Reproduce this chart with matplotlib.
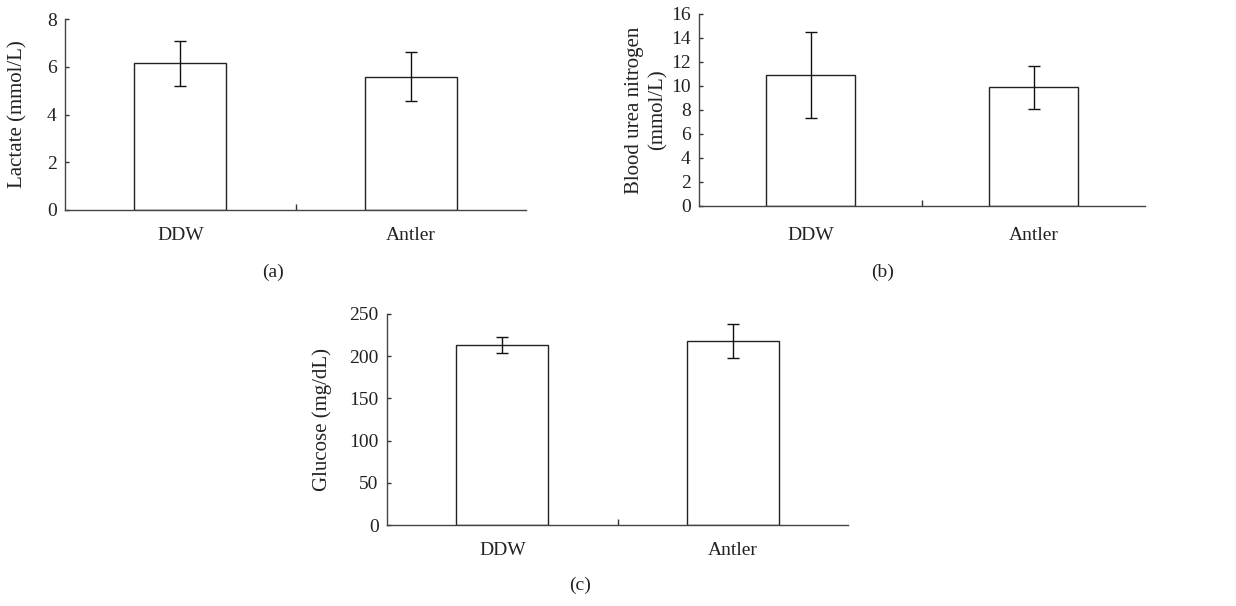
import matplotlib
matplotlib.use("Agg")
import matplotlib.pyplot as plt
import matplotlib.transforms as mtransforms
import numpy as np

plt.rcParams['font.family'] = ['Liberation Serif', 'DejaVu Serif']

categories = ["DDW", "Antler"]
lactate_mean = [6.15, 5.58]
lactate_err = [0.94, 1.02]
bun_mean = [10.9, 9.9]
bun_err = [3.6, 1.8]
glucose_mean = [213, 218]
glucose_err = [9.5, 20]

W, H = 1236, 606
fig = plt.figure(figsize=(W / 100, H / 100), dpi=100)


def make_ax(left, right, top, bottom):
    return fig.add_axes([left / W, 1 - bottom / H, (right - left) / W, (bottom - top) / H])


def draw(ax, means, errs, ymax, ystep, ylabel, letter, lx, ly, label_x, xpad=12):
    x = np.arange(len(categories))
    ax.bar(x, means, width=0.4, color="white", edgecolor="#222222", linewidth=1.0, zorder=2)
    ax.errorbar(x, means, yerr=errs, fmt="none", ecolor="#111111", elinewidth=1.0,
                capsize=4, capthick=1.0, zorder=3)
    ax.set_xlim(-0.5, 1.5)
    ax.set_ylim(0, ymax)
    ax.set_yticks(np.arange(0, ymax + ystep / 2, ystep))
    ax.set_xticks(x)
    ax.set_xticklabels(categories)
    ax.set_xticks([0.5], minor=True)
    ax.tick_params(axis="x", which="major", length=0, pad=xpad, labelsize=14, labelcolor="#222222")
    ax.tick_params(axis="x", which="minor", direction="in", length=4, width=1, color="#333333")
    ax.tick_params(axis="y", direction="in", length=3, width=1, color="#333333",
                   labelsize=14, pad=6, labelcolor="#222222")
    for s in ["top", "right"]:
        ax.spines[s].set_visible(False)
    for s in ["left", "bottom"]:
        ax.spines[s].set_color("#444444")
        ax.spines[s].set_linewidth(1.0)
    ax.set_ylabel(ylabel, fontsize=15, color="#222222", linespacing=1.3)
    trans = mtransforms.blended_transform_factory(fig.transFigure, ax.transAxes)
    ax.yaxis.set_label_coords(label_x, 0.5, transform=trans)
    fig.text(lx / W, 1 - ly / H, letter, ha="center", va="center", fontsize=14, color="#222222")


ax_a = make_ax(65, 526, 19, 210)
draw(ax_a, lactate_mean, lactate_err, 8, 2, "Lactate (mmol/L)", "(a)", 273, 272, 27 / W)

ax_b = make_ax(699, 1145, 14, 206)
draw(ax_b, bun_mean, bun_err, 16, 2, "Blood urea nitrogen\n(mmol/L)", "(b)", 883, 272, 668 / W, xpad=15)

ax_c = make_ax(387, 848, 314, 525)
draw(ax_c, glucose_mean, glucose_err, 250, 50, "Glucose (mg/dL)", "(c)", 580, 585, 332 / W)

fig.savefig("out.png", dpi=100)
